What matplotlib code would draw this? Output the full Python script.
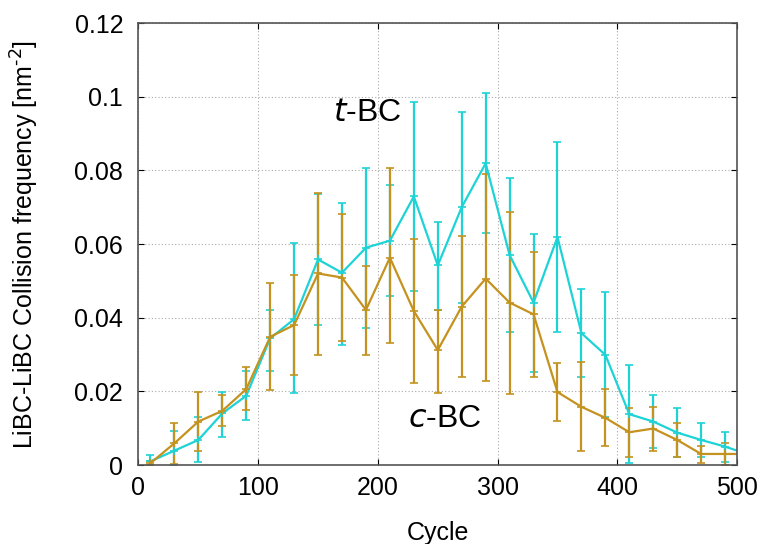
import matplotlib.pyplot as plt
import numpy as np

plt.rcParams['font.family'] = ['Liberation Sans', 'DejaVu Sans']

cycle = [10, 30, 50, 70, 90, 110, 130, 150, 170, 190, 210, 230, 250,
         270, 290, 310, 330, 350, 370, 390, 410, 430, 450, 470, 490, 510]

# t-BC (cyan)
t_val = [0.001, 0.0039, 0.0068, 0.014, 0.0188, 0.0344, 0.0396, 0.0558, 0.0522,
         0.059, 0.0609, 0.0729, 0.0542, 0.070, 0.0819, 0.057, 0.0441, 0.0619,
         0.0358, 0.0299, 0.0138, 0.0118, 0.0088, 0.0068, 0.005, 0.0028]
t_hi = [0.0027, 0.0093, 0.0131, 0.0199, 0.0256, 0.0421, 0.0603, 0.0736, 0.0712,
        0.0807, 0.0759, 0.0986, 0.066, 0.0959, 0.1009, 0.0779, 0.0627, 0.0877,
        0.0477, 0.0469, 0.0272, 0.019, 0.0156, 0.0115, 0.0089, 0.005]
t_lo = [0.0, 0.0, 0.0008, 0.0077, 0.0122, 0.0256, 0.0196, 0.038, 0.0326,
        0.0371, 0.0459, 0.0472, 0.042, 0.0439, 0.0629, 0.0362, 0.0252, 0.036,
        0.024, 0.013, 0.0005, 0.0047, 0.0023, 0.0023, 0.0009, 0.001]

# c-BC (orange)
c_val = [0.0005, 0.0059, 0.0118, 0.0147, 0.0206, 0.0348, 0.038, 0.052, 0.0509,
         0.0421, 0.0563, 0.0418, 0.0312, 0.043, 0.0506, 0.0441, 0.0409, 0.0198,
         0.0158, 0.0128, 0.0089, 0.0099, 0.0068, 0.003, 0.003, 0.003]
c_hi = [0.0012, 0.0115, 0.0197, 0.019, 0.0267, 0.0495, 0.0515, 0.0738, 0.0682,
        0.054, 0.0807, 0.0614, 0.0421, 0.0622, 0.0789, 0.0687, 0.0578, 0.0278,
        0.0279, 0.0206, 0.0154, 0.0158, 0.0113, 0.0052, 0.0059, 0.006]
c_lo = [0.0, 0.0003, 0.0039, 0.0107, 0.0149, 0.0204, 0.0244, 0.0299, 0.0338,
        0.0299, 0.033, 0.0224, 0.0195, 0.0238, 0.0228, 0.0192, 0.024, 0.0119,
        0.0039, 0.0052, 0.0023, 0.0039, 0.0023, 0.0006, 0.0, 0.0]

cyan = '#1dd3d6'
gold = '#c4921f'

fig = plt.figure(figsize=(7.63, 5.44), dpi=100)
ax = fig.add_axes([0.1815, 0.1452, 0.7845, 0.8125])

for val, hi, lo, col in [(t_val, t_hi, t_lo, cyan), (c_val, c_hi, c_lo, gold)]:
    v = np.array(val)
    err = [v - np.array(lo), np.array(hi) - v]
    ax.errorbar(cycle, v, yerr=err, color=col, lw=1.6, elinewidth=1.6,
                capsize=3, capthick=1.6, marker='+', ms=6, mew=1.2)

ax.set_xlim(0, 500)
ax.set_ylim(0, 0.12)
ax.set_xticks([0, 100, 200, 300, 400, 500])
ax.set_yticks([0, 0.02, 0.04, 0.06, 0.08, 0.1, 0.12])
ax.set_yticklabels(['0', '0.02', '0.04', '0.06', '0.08', '0.1', '0.12'])
ax.grid(True, color='#aaaaaa', ls=(0, (1, 2)), lw=0.8)
ax.tick_params(direction='in', length=4, labelsize=18, top=True, right=True)
ax.tick_params(axis='x', pad=8)
ax.tick_params(axis='y', pad=11)
for s in ax.spines.values():
    s.set_color('#555555')
    s.set_linewidth(1.2)

ax.set_xlabel('Cycle', fontsize=18, labelpad=15)
ax.set_ylabel('LiBC-LiBC Collision frequency [nm$^{\\text{-2}}$]', fontsize=18, labelpad=24)

ax.text(191, 0.0955, '$\\mathit{t}$-BC', fontsize=23, ha='center', va='center')
ax.text(256, 0.0125, '$\\mathit{c}$-BC', fontsize=23, ha='center', va='center')

fig.savefig('out.png', dpi=100)
